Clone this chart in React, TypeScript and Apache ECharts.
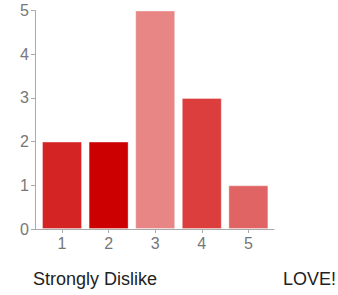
import React, { useEffect, useRef } from "react";
import * as echarts from "echarts";

const categories = [1, 2, 3, 4, 5];
const values = [2, 2, 5, 3, 1];
const barColors = ["#d42424", "#cc0000", "#e88686", "#dc3e3e", "#e06464"];
const yTicks = [0, 1, 2, 3, 4, 5];
const leftLabel = "Strongly Dislike";
const rightLabel = "LOVE!";

export default function App() {
  const ref = useRef<HTMLDivElement>(null);
  useEffect(() => {
    const chart = echarts.init(ref.current!, undefined, { renderer: "svg" });
    chart.setOption({
      animation: false,
      grid: { left: 35, top: 10.5, width: 239, height: 218.5, containLabel: false },
      xAxis: {
        type: "value",
        min: 0.42,
        max: 5.55,
        axisLine: { show: true, lineStyle: { color: "#aaaaaa", width: 1 } },
        axisTick: { show: true, length: 4, lineStyle: { color: "#aaaaaa" }, customValues: categories },
        axisLabel: {
          customValues: categories,
          color: "#777777",
          fontSize: 16,
          fontFamily: "Liberation Sans, Arial, sans-serif",
          margin: 6,
        },
        splitLine: { show: false },
      },
      yAxis: {
        type: "value",
        min: 0,
        max: 5,
        interval: 1,
        axisLine: { show: true, lineStyle: { color: "#aaaaaa", width: 1 } },
        axisTick: { show: true, length: 4, lineStyle: { color: "#aaaaaa" }, customValues: yTicks },
        axisLabel: {
          customValues: yTicks,
          color: "#777777",
          fontSize: 16,
          fontFamily: "Liberation Sans, Arial, sans-serif",
          margin: 6,
        },
        splitLine: { show: false },
      },
      series: [
        {
          type: "bar",
          barWidth: 40,
          data: categories.map((c, i) => ({
            value: [c, values[i]],
            itemStyle: {
              color: barColors[i],
              borderColor: "rgba(255,255,255,0.35)",
              borderWidth: 1,
            },
          })),
        },
      ],
      graphic: [
        {
          type: "text",
          left: 33,
          top: 270,
          style: {
            text: leftLabel,
            fill: "#222222",
            fontSize: 18,
            fontFamily: "Liberation Sans, Arial, sans-serif",
          },
        },
        {
          type: "text",
          left: 283,
          top: 270,
          style: {
            text: rightLabel,
            fill: "#222222",
            fontSize: 18,
            fontFamily: "Liberation Sans, Arial, sans-serif",
          },
        },
      ],
    });
    return () => chart.dispose();
  }, []);
  return (
    <div
      ref={ref}
      style={{ position: "fixed", left: 0, top: 0, width: 338, height: 295, background: "#ffffff" }}
    />
  );
}
